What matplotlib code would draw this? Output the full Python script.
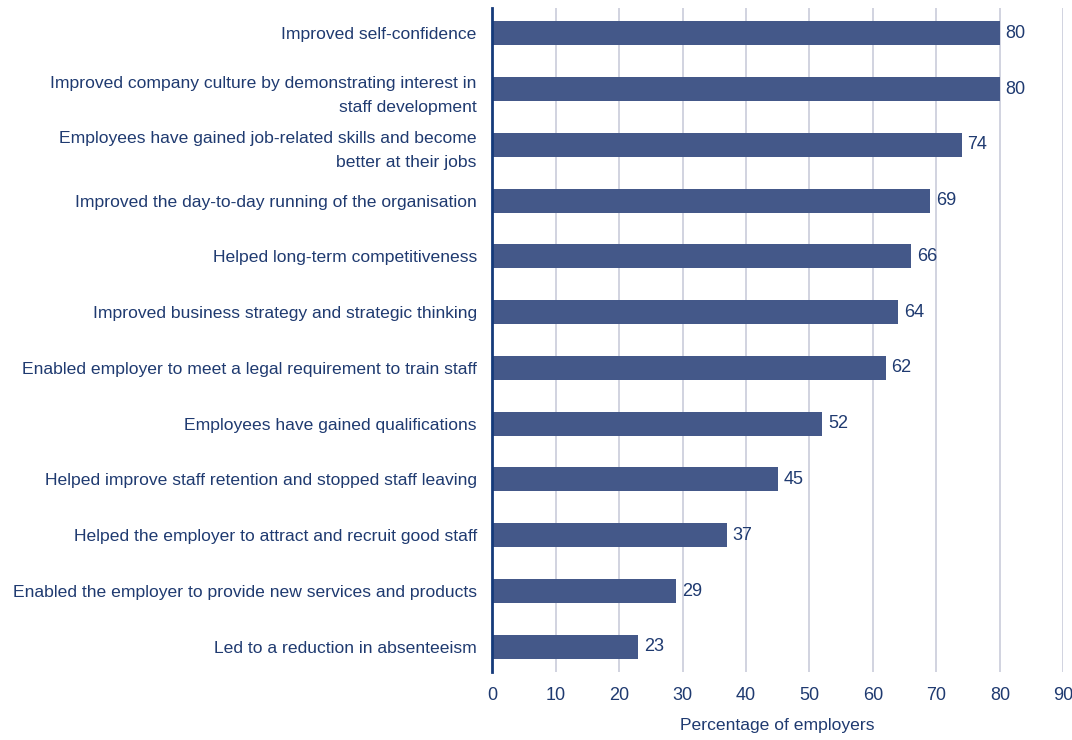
import matplotlib.pyplot as plt

benefits = [
    "Improved self-confidence",
    "Improved company culture by demonstrating interest in\nstaff development",
    "Employees have gained job-related skills and become\nbetter at their jobs",
    "Improved the day-to-day running of the organisation",
    "Helped long-term competitiveness",
    "Improved business strategy and strategic thinking",
    "Enabled employer to meet a legal requirement to train staff",
    "Employees have gained qualifications",
    "Helped improve staff retention and stopped staff leaving",
    "Helped the employer to attract and recruit good staff",
    "Enabled the employer to provide new services and products",
    "Led to a reduction in absenteeism",
]
percentages = [80, 80, 74, 69, 66, 64, 62, 52, 45, 37, 29, 23]
x_ticks = [0, 10, 20, 30, 40, 50, 60, 70, 80, 90]

text_col = "#1f3a70"
bar_col = "#445889"

plt.rcParams['font.family'] = ['Liberation Sans', 'DejaVu Sans']

fig = plt.figure(figsize=(10.72, 7.40), dpi=100)
ax = fig.add_axes([0.459, 0.092, 0.533, 0.897])

pos = list(range(len(benefits)))
ax.barh(pos, percentages, height=0.43, color=bar_col, zorder=3)
for y, v in zip(pos, percentages):
    ax.text(v + 0.9, y, str(v), va='center', ha='left', fontsize=13, color=text_col)

ax.set_ylim(len(benefits) - 0.55, -0.45)
ax.set_xlim(0, 90)
ax.set_yticks(pos)
ax.set_yticklabels(benefits, fontsize=12.6, color=text_col, linespacing=1.75)
ax.set_xticks(x_ticks)
ax.set_xticklabels([str(t) for t in x_ticks], fontsize=13, color=text_col)
ax.tick_params(length=0, pad=11)
ax.tick_params(axis='y', pad=11)
ax.set_xlabel("Percentage of employers", fontsize=12.6, color=text_col, labelpad=10)

ax.grid(axis='x', color="#c9ccda", linewidth=1.2, zorder=0)
for s in ['top', 'right', 'bottom']:
    ax.spines[s].set_visible(False)
ax.spines['left'].set_color("#153a7a")
ax.spines['left'].set_linewidth(2)
ax.spines['left'].set_zorder(4)

fig.savefig("out.png", dpi=100)
